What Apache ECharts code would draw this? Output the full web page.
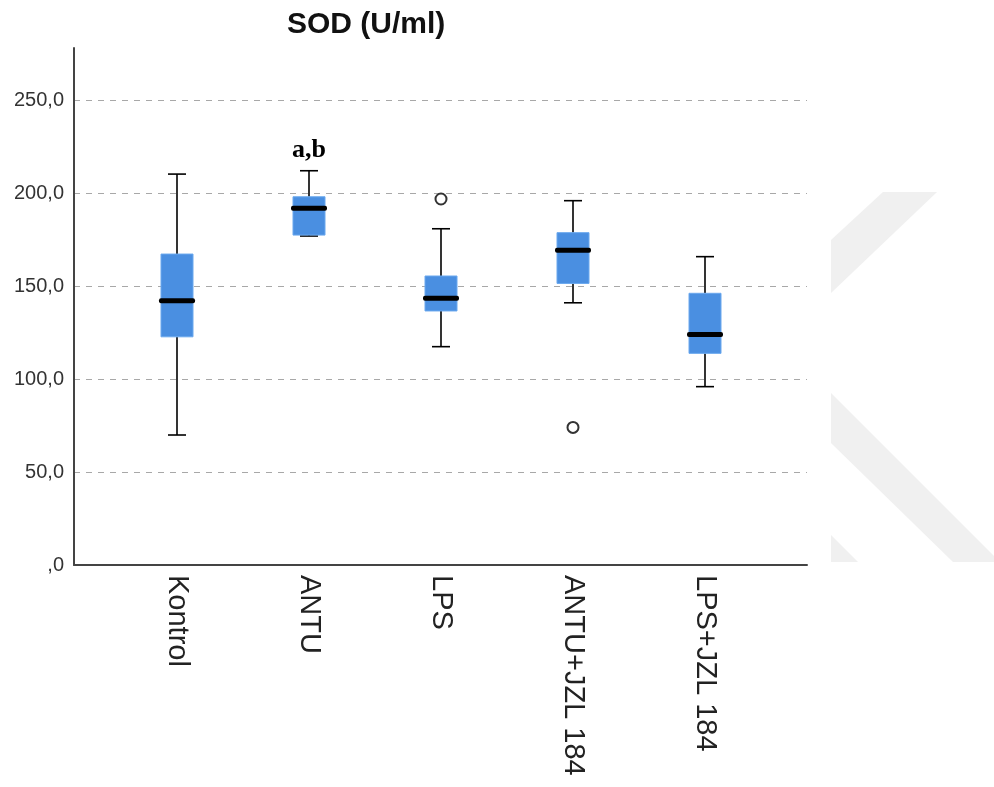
<!DOCTYPE html>
<html>
<head>
<meta charset="utf-8">
<script src="https://cdn.jsdelivr.net/npm/echarts@6/dist/echarts.min.js"></script>
<style>
  html, body { margin: 0; padding: 0; background: #ffffff; }
  #chart { width: 994px; height: 787px; }
</style>
</head>
<body>
<div id="chart"></div>
<script>
// ---- data ----
const categories = ['Kontrol', 'ANTU', 'LPS', 'ANTU+JZL 184', 'LPS+JZL 184'];
const whiskerLow  = [69.9, 176.9, 117.4, 141.0, 95.9];
const q1          = [122.7, 177.4, 136.6, 151.4, 113.8];
const median      = [142.1, 191.8, 143.4, 169.2, 124.0];
const q3          = [167.2, 198.0, 155.4, 178.7, 146.1];
const whiskerHigh = [210.2, 212.0, 180.8, 195.9, 165.8];
const outliers    = [[2, 196.8], [3, 74.0]];
const annotations = ['', 'a,b', '', '', ''];
const yTicks = [0, 50, 100, 150, 200, 250];
const yMax = 278;

const FONT = '"Liberation Sans", Arial, sans-serif';
const BOX_COLOR = '#4a8fe1';

const boxData = categories.map((c, i) => [i, whiskerLow[i], q1[i], median[i], q3[i], whiskerHigh[i]]);

function fmt(v) {
  if (yTicks.indexOf(v) < 0) return '';
  if (v === 0) return ',0';
  return v.toFixed(1).replace('.', ',');
}

function renderBox(params, api) {
  const x = api.value(0);
  const lo = api.coord([x, api.value(1)]);
  const b1 = api.coord([x, api.value(2)]);
  const md = api.coord([x, api.value(3)]);
  const b3 = api.coord([x, api.value(4)]);
  const hi = api.coord([x, api.value(5)]);
  const cx = lo[0];
  const boxW = 32, capW = 18, medW = 36, medH = 5;
  const lineStyle = { stroke: '#000', lineWidth: 1.6 };
  const children = [
    { type: 'line', shape: { x1: cx, y1: hi[1], x2: cx, y2: b3[1] }, style: lineStyle },
    { type: 'line', shape: { x1: cx, y1: b1[1], x2: cx, y2: lo[1] }, style: lineStyle },
    { type: 'line', shape: { x1: cx - capW / 2, y1: hi[1], x2: cx + capW / 2, y2: hi[1] }, style: lineStyle },
    { type: 'line', shape: { x1: cx - capW / 2, y1: lo[1], x2: cx + capW / 2, y2: lo[1] }, style: lineStyle },
    { type: 'rect', shape: { x: cx - boxW / 2, y: b3[1], width: boxW, height: b1[1] - b3[1] },
      style: { fill: BOX_COLOR, stroke: '#6aa8ee', lineWidth: 1 } },
    { type: 'rect', shape: { x: cx - medW / 2, y: md[1] - medH / 2, width: medW, height: medH, r: 2 },
      style: { fill: '#000' } }
  ];
  const ann = annotations[params.dataIndex];
  if (ann) {
    children.push({
      type: 'text',
      style: {
        x: cx, y: hi[1] - 7, text: ann, align: 'center', verticalAlign: 'bottom',
        font: 'bold 26px "Liberation Serif", "Times New Roman", serif', fill: '#000'
      }
    });
  }
  return { type: 'group', children: children };
}

const chart = echarts.init(document.getElementById('chart'), null, { renderer: 'canvas' });

chart.setOption({
  backgroundColor: '#ffffff',
  animation: false,
  title: {
    text: 'SOD (U/ml)',
    left: 287, top: 10, padding: 0,
    textStyle: { fontFamily: FONT, fontSize: 30, fontWeight: 'bold', color: '#111' }
  },
  graphic: [
    { type: 'polygon', z: -10, shape: { points: [[883, 192], [937, 192], [831, 293], [831, 240]] }, style: { fill: '#f0f0f0' } },
    { type: 'polygon', z: -10, shape: { points: [[831, 393], [994, 556], [994, 562], [953, 562], [831, 443]] }, style: { fill: '#f0f0f0' } },
    { type: 'polygon', z: -10, shape: { points: [[831, 535], [858, 562], [831, 562]] }, style: { fill: '#f0f0f0' } }
  ],
  grid: [
    { left: 74, right: 187, top: 48, bottom: 222 },
    { left: 111, right: 223, top: 48, bottom: 222 }
  ],
  xAxis: [
    {
      gridIndex: 0, type: 'value', min: 0, max: 1,
      axisLine: { show: true, lineStyle: { color: '#444', width: 2 } },
      axisTick: { show: false }, axisLabel: { show: false }, splitLine: { show: false }
    },
    {
      gridIndex: 1, type: 'category', data: categories, boundaryGap: true,
      axisLine: { show: false }, axisTick: { show: false }, splitLine: { show: false },
      axisLabel: {
        rotate: -90, margin: 10, interval: 0, padding: [8, 0, 0, 0],
        fontFamily: FONT, fontSize: 29, color: '#222'
      }
    }
  ],
  yAxis: [
    {
      gridIndex: 0, type: 'value', min: 0, max: yMax, interval: 50,
      axisLine: { show: true, lineStyle: { color: '#444', width: 2 } },
      axisTick: { show: false },
      axisLabel: { formatter: fmt, fontFamily: FONT, fontSize: 20, color: '#333', margin: 10, showMaxLabel: false },
      splitLine: { show: true, showMinLine: false, showMaxLine: false,
        lineStyle: { color: '#a8a8a8', width: 1, type: [6, 6] } }
    },
    {
      gridIndex: 1, type: 'value', min: 0, max: yMax, interval: 50, show: false,
      splitLine: { show: false }
    }
  ],
  series: [
    {
      type: 'custom', xAxisIndex: 1, yAxisIndex: 1,
      renderItem: renderBox, data: boxData, z: 5,
      encode: { x: 0, y: [1, 2, 3, 4, 5] }
    },
    {
      type: 'scatter', xAxisIndex: 1, yAxisIndex: 1, z: 6,
      data: outliers, symbol: 'circle', symbolSize: 11,
      itemStyle: { color: '#ffffff', borderColor: '#333', borderWidth: 2, opacity: 1 }
    }
  ]
});
</script>
</body>
</html>
